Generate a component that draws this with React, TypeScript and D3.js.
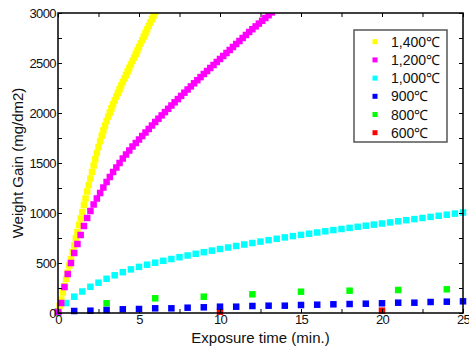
import React, { useRef, useEffect } from 'react';
import * as d3 from 'd3';

// Legend labels / colours, top to bottom
const tempLabels = ['1,400℃', '1,200℃', '1,000℃', '900℃', '800℃', '600℃'];
const tempColors = ['#ffff00', '#ff00ff', '#00ffff', '#0000ff', '#00ff00', '#ff0000'];

// Weight gain (mg/dm2), sampled every `step` minutes starting at 0
const gain1400 = [
  10, 70, 135, 205, 270, 340, 405, 475, 540, 610, 675, 745, 810, 880, 945, 1010, 1080, 1145, 1215,
  1280, 1345, 1410, 1475, 1538, 1600, 1660, 1718, 1773, 1825, 1874, 1920, 1964, 2006, 2047, 2087,
  2126, 2164, 2201, 2238, 2274, 2310, 2345, 2380, 2415, 2450, 2485, 2520, 2555, 2590, 2625, 2660,
  2695, 2730, 2765, 2800, 2835, 2870, 2905, 2940, 2975, 3010,
];
const gain1200 = [
  10, 100, 260, 390, 500, 600, 690, 780, 870, 950, 1020, 1085, 1145, 1200, 1255, 1310, 1360, 1410,
  1455, 1500, 1545, 1585, 1625, 1665, 1700, 1735, 1770, 1805, 1840, 1875, 1910, 1943, 1976, 2009,
  2042, 2075, 2107, 2139, 2171, 2203, 2235, 2266, 2297, 2328, 2359, 2390, 2420, 2450, 2480, 2510,
  2540, 2570, 2600, 2630, 2660, 2690, 2720, 2750, 2780, 2810, 2838, 2866, 2894, 2922, 2950, 2978,
  3006,
];
const gain1000 = [
  0, 100, 163, 215, 262, 303, 342, 377, 408, 436, 461, 483, 503, 522, 540, 558, 575, 592, 608, 624,
  640, 655, 670, 685, 700, 714, 728, 742, 756, 769, 781, 793, 805, 817, 829, 840, 851, 862, 873, 884,
  895, 906, 917, 928, 939, 950, 961, 972, 983, 994, 1005,
];
const gain900 = [
  10, 20, 23, 30, 37, 40, 47, 47, 53, 57, 63, 63, 70, 73, 73, 80, 83, 87, 90, 93, 97, 103, 103, 110,
  113, 117,
];
const gain800 = [10, 97, 147, 163, 187, 213, 223, 230, 237];
const gain600 = [5, 13, 23];

const seriesSteps = [0.1, 0.2, 0.5, 1, 3, 10];
const seriesValues = [gain1400, gain1200, gain1000, gain900, gain800, gain600];
// drawn back to front
const drawOrder = [5, 4, 3, 2, 0, 1];

const xMajor = [0, 5, 10, 15, 20, 25];
const xMinor = [2.5, 7.5, 12.5, 17.5, 22.5];
const yMajor = [0, 500, 1000, 1500, 2000, 2500, 3000];
const yMinor = [250, 750, 1250, 1750, 2250, 2750];

const W = 469;
const H = 351;
const FONT = '"Liberation Sans", Arial, sans-serif';

const WeightGainChart: React.FC = () => {
  const svgRef = useRef<SVGSVGElement>(null);

  useEffect(() => {
    const svg = d3.select(svgRef.current);
    svg.selectAll('*').remove();

    const left = 58;
    const right = 463;
    const top = 13;
    const bottom = 313;

    const x = d3.scaleLinear().domain([0, 25]).range([left, right]);
    const y = d3.scaleLinear().domain([0, 3000]).range([bottom, top]);

    svg
      .append('defs')
      .append('clipPath')
      .attr('id', 'plotClip')
      .append('rect')
      .attr('x', left - 10)
      .attr('y', top)
      .attr('width', right - left + 20)
      .attr('height', H - top);

    // markers
    const marks = svg.append('g').attr('clip-path', 'url(#plotClip)');
    const size = 6.5;
    drawOrder.forEach(si => {
      const step = seriesSteps[si];
      marks
        .append('g')
        .selectAll('rect')
        .data(seriesValues[si])
        .enter()
        .append('rect')
        .attr('x', (_, i) => x(i * step) - size / 2)
        .attr('y', d => y(d) - size / 2)
        .attr('width', size)
        .attr('height', size)
        .attr('fill', tempColors[si]);
    });

    // frame
    svg
      .append('rect')
      .attr('x', left)
      .attr('y', top)
      .attr('width', right - left)
      .attr('height', bottom - top)
      .attr('fill', 'none')
      .attr('stroke', '#000')
      .attr('stroke-width', 1.5);

    const styleAxis = (g: d3.Selection<SVGGElement, unknown, null, undefined>) => {
      g.select('.domain').remove();
      g.selectAll('line').attr('stroke', '#000');
      g.selectAll('text')
        .attr('fill', '#111')
        .style('font-family', FONT)
        .style('font-size', '13px')
        .style('letter-spacing', '-0.6px');
    };

    const tick = 4;
    // bottom axis (labels) + inward ticks
    svg
      .append('g')
      .attr('transform', `translate(0,${bottom})`)
      .call(d3.axisBottom(x).tickValues(xMajor).tickSize(-tick).tickPadding(2).tickFormat(d3.format('d')))
      .call(styleAxis);
    svg
      .append('g')
      .attr('transform', `translate(0,${bottom})`)
      .call(d3.axisBottom(x).tickValues(xMinor).tickSize(-tick).tickFormat(() => ''))
      .call(styleAxis);
    // top ticks
    svg
      .append('g')
      .attr('transform', `translate(0,${top})`)
      .call(d3.axisTop(x).tickValues([...xMajor, ...xMinor]).tickSize(-tick).tickFormat(() => ''))
      .call(styleAxis);

    // left axis
    svg
      .append('g')
      .attr('transform', `translate(${left},0)`)
      .call(d3.axisLeft(y).tickValues(yMajor).tickSize(-tick).tickPadding(2).tickFormat(d3.format('d')))
      .call(styleAxis);
    svg
      .append('g')
      .attr('transform', `translate(${left},0)`)
      .call(d3.axisLeft(y).tickValues(yMinor).tickSize(-tick).tickFormat(() => ''))
      .call(styleAxis);
    // right ticks
    svg
      .append('g')
      .attr('transform', `translate(${right},0)`)
      .call(d3.axisRight(y).tickValues([...yMajor, ...yMinor]).tickSize(-tick).tickFormat(() => ''))
      .call(styleAxis);

    // axis titles
    svg
      .append('text')
      .attr('x', (left + right) / 2)
      .attr('y', 343)
      .attr('text-anchor', 'middle')
      .attr('fill', '#111')
      .style('font-family', FONT)
      .style('font-size', '15px')
      .text('Exposure time (min.)');

    svg
      .append('text')
      .attr('transform', `translate(23,${(top + bottom) / 2}) rotate(-90)`)
      .attr('text-anchor', 'middle')
      .attr('fill', '#111')
      .style('font-family', FONT)
      .style('font-size', '15px')
      .text('Weight Gain (mg/dm2)');

    // legend
    const lg = svg.append('g');
    lg.append('rect')
      .attr('x', 354)
      .attr('y', 30)
      .attr('width', 93)
      .attr('height', 112)
      .attr('fill', '#fff')
      .attr('stroke', '#555')
      .attr('stroke-width', 1.5);

    const rows = lg
      .selectAll('g.row')
      .data(tempLabels)
      .enter()
      .append('g')
      .attr('class', 'row')
      .attr('transform', (_, i) => `translate(0,${41.7 + i * 18.2})`);

    rows
      .append('rect')
      .attr('x', 372.5)
      .attr('y', -2.5)
      .attr('width', 5)
      .attr('height', 5)
      .attr('fill', (_, i) => tempColors[i]);

    rows
      .append('text')
      .attr('x', 391)
      .attr('dy', '0.36em')
      .attr('fill', '#111')
      .style('font-family', FONT)
      .style('font-size', '14px')
      .text(d => d);
  }, []);

  return (
    <svg
      ref={svgRef}
      width={W}
      height={H}
      viewBox={`0 0 ${W} ${H}`}
      style={{ position: 'absolute', left: 0, top: 0, background: '#fff' }}
    />
  );
};

export default function App() {
  return <WeightGainChart />;
}
